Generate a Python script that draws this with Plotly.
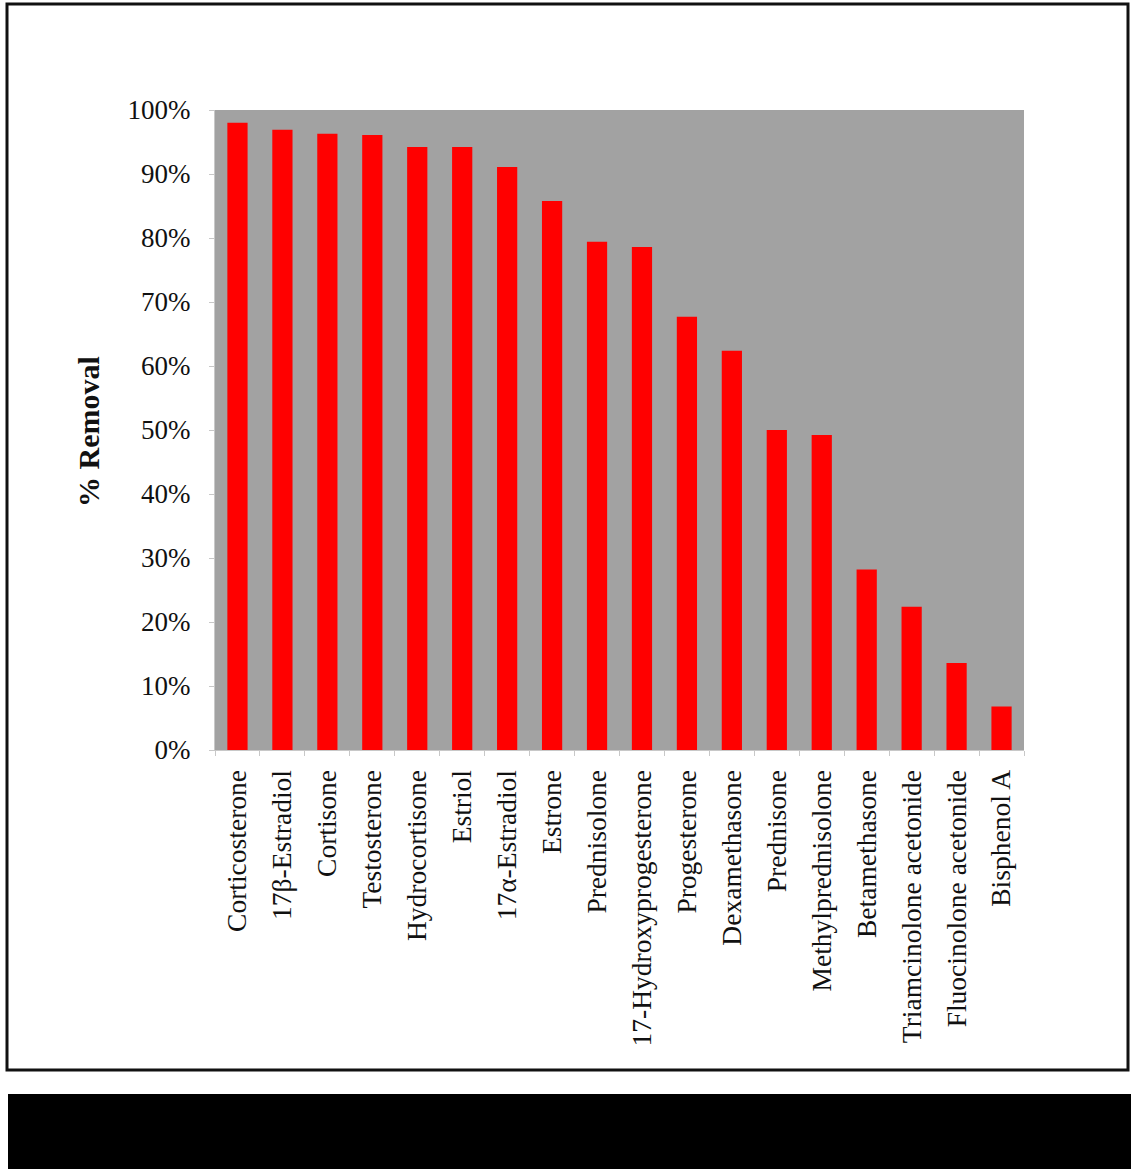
import plotly.graph_objects as go

compounds = ["Corticosterone", "17β-Estradiol", "Cortisone", "Testosterone", "Hydrocortisone",
             "Estriol", "17α-Estradiol", "Estrone", "Prednisolone", "17-Hydroxyprogesterone",
             "Progesterone", "Dexamethasone", "Prednisone", "Methylprednisolone", "Betamethasone",
             "Triamcinolone acetonide", "Fluocinolone acetonide", "Bisphenol A"]
removal_pct = [98.0, 96.9, 96.3, 96.1, 94.2, 94.2, 91.1, 85.8, 79.4, 78.6,
               67.7, 62.4, 50.0, 49.2, 28.2, 22.4, 13.6, 6.8]
y_ticks = [0, 10, 20, 30, 40, 50, 60, 70, 80, 90, 100]

W, H = 1131, 1169
L, R, T, B = 215, 1024, 110, 750
FONT = "Liberation Serif, Times New Roman, serif"

def px(x):
    return (x - L) / (R - L)

def py(y):
    return (B - y) / (B - T)

fig = go.Figure(go.Bar(x=compounds, y=removal_pct, marker=dict(color="#FF0000", line=dict(width=0)),
                       width=0.45))

fig.update_layout(
    width=W, height=H,
    margin=dict(l=L, r=W - R, t=T, b=H - B, pad=0),
    paper_bgcolor="white", plot_bgcolor="#A2A2A2",
    showlegend=False,
    font=dict(family=FONT, size=27, color="#111111"),
    shapes=[
        dict(type="rect", xref="paper", yref="paper", x0=px(7), x1=px(1128), y0=py(4), y1=py(1070),
             line=dict(color="#111111", width=3), fillcolor="rgba(0,0,0,0)", layer="below"),
        dict(type="rect", xref="paper", yref="paper", x0=px(8), x1=px(1131), y0=py(1094), y1=py(1169),
             line=dict(width=0), fillcolor="black"),
    ],
    annotations=[
        dict(text="<b>% Removal</b>", xref="paper", yref="paper", x=px(88), y=py(432),
             textangle=-90, showarrow=False, font=dict(family=FONT, size=30, color="#111111"),
             xanchor="center", yanchor="middle"),
    ],
)

fig.update_xaxes(
    showgrid=False, showline=True, linecolor="#C8C8C8", linewidth=1,
    ticks="outside", ticklen=5, tickcolor="#C8C8C8", tickson="boundaries",
    tickangle=-90, tickfont=dict(family=FONT, size=27.5, color="#111111"),
    ticklabelstandoff=8,
    range=[-0.5, len(compounds) - 0.5],
)
fig.update_yaxes(
    range=[0, 100], tickvals=y_ticks, ticktext=[f"{v}%" for v in y_ticks],
    showgrid=False, showline=True, linecolor="#C8C8C8", linewidth=1,
    ticks="outside", ticklen=5, tickcolor="#C8C8C8",
    tickfont=dict(family=FONT, size=27, color="#111111"),
    ticklabelstandoff=13, zeroline=False,
)

fig.write_html("out.html", config={"displayModeBar": False},
               post_script="document.body.style.margin='0';document.body.style.padding='0';")
